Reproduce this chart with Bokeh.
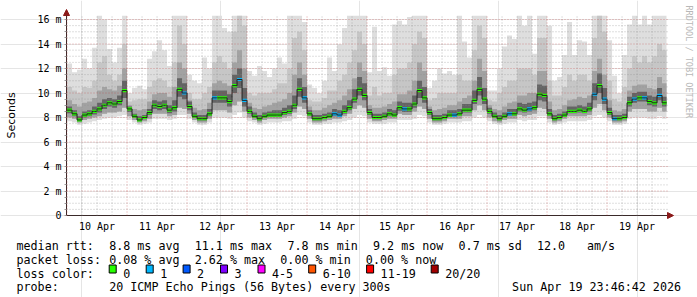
import math
from datetime import datetime, timedelta
from bokeh.plotting import figure
from bokeh.models import (Range1d, FixedTicker, DatetimeTickFormatter, Arrow, NormalHead,
                          Label, LinearAxis, DatetimeAxis)
from bokeh.core.properties import value
from bokeh.embed import file_html
from bokeh.resources import INLINE

# ---------------- data (2-hour bins from 10 Apr 00:00) ----------------
median_ms = [
    8.6, 8.3, 7.8, 8.2, 8.3, 8.5, 8.7, 9.0, 9.2, 9.1, 9.3, 10.2,
    8.7, 8.1, 7.8, 8.0, 8.4, 9.0, 8.9, 9.0, 8.6, 8.8, 10.3, 10.0,
    8.9, 8.1, 7.9, 7.9, 8.3, 9.6, 9.6, 9.6, 9.3, 10.6, 11.1, 9.4,
    8.5, 8.1, 7.9, 8.1, 8.2, 8.2, 8.2, 8.4, 8.5, 9.0, 10.3, 9.6,
    8.3, 7.9, 7.9, 8.0, 8.1, 8.3, 8.2, 8.5, 8.8, 9.5, 10.3, 9.8,
    8.4, 8.0, 8.0, 8.1, 8.3, 8.2, 8.8, 8.7, 8.7, 9.1, 10.2, 9.6,
    8.4, 7.9, 7.9, 8.0, 8.2, 8.2, 8.3, 8.6, 8.6, 9.4, 10.3, 9.5,
    8.5, 8.1, 7.9, 8.1, 8.3, 8.3, 8.7, 8.6, 8.7, 8.8, 9.9, 9.8,
    8.3, 7.9, 8.0, 8.2, 8.5, 8.5, 8.6, 8.5, 8.7, 9.9, 10.6, 9.5,
    8.4, 7.9, 7.9, 8.0, 9.2, 9.5, 9.6, 9.6, 9.3, 9.2, 9.8, 9.2,
]
loss_count = [
    0, 0, 0, 0, 0, 0, 0, 0, 0, 0, 0, 0,
    0, 0, 0, 0, 0, 0, 0, 0, 0, 0, 0, 1,
    0, 0, 0, 0, 0, 1, 0, 0, 0, 0, 1, 1,
    0, 0, 0, 0, 0, 0, 0, 0, 0, 0, 0, 1,
    0, 0, 0, 0, 0, 1, 1, 0, 0, 0, 0, 0,
    0, 0, 0, 0, 0, 0, 0, 1, 0, 0, 0, 0,
    0, 0, 0, 0, 0, 1, 0, 0, 0, 0, 0, 0,
    0, 0, 0, 0, 1, 0, 0, 0, 1, 0, 0, 0,
    0, 0, 0, 0, 0, 0, 0, 0, 0, 1, 0, 1,
    0, 1, 0, 0, 0, 1, 0, 1, 0, 0, 1, 0,
]
smoke_min = [
    7.7, 7.6, 7.4, 7.5, 7.6, 7.7, 7.8, 7.9, 8.0, 8.0, 8.1, 8.2,
    7.8, 7.6, 7.4, 7.5, 7.6, 7.9, 7.9, 7.9, 7.8, 7.9, 8.2, 8.2,
    7.9, 7.6, 7.4, 7.4, 7.6, 8.0, 8.0, 8.0, 7.9, 8.2, 8.4, 8.0,
    7.7, 7.6, 7.4, 7.5, 7.6, 7.6, 7.6, 7.7, 7.7, 7.9, 8.2, 8.1,
    7.6, 7.4, 7.4, 7.5, 7.5, 7.6, 7.6, 7.7, 7.8, 8.0, 8.2, 8.1,
    7.6, 7.5, 7.5, 7.5, 7.6, 7.6, 7.8, 7.8, 7.8, 7.9, 8.2, 8.1,
    7.6, 7.4, 7.4, 7.5, 7.6, 7.6, 7.6, 7.7, 7.7, 8.0, 8.2, 8.0,
    7.7, 7.5, 7.4, 7.5, 7.6, 7.6, 7.8, 7.7, 7.8, 7.8, 8.1, 8.1,
    7.6, 7.4, 7.5, 7.6, 7.7, 7.7, 7.7, 7.7, 7.8, 8.1, 8.2, 8.0,
    7.7, 7.4, 7.4, 7.5, 7.9, 8.0, 8.0, 8.0, 7.9, 7.9, 8.1, 7.9,
]
smoke_p10 = [
    8.0, 7.9, 7.6, 7.8, 7.9, 8.0, 8.1, 8.3, 8.4, 8.4, 8.5, 8.8,
    8.1, 7.8, 7.6, 7.7, 7.9, 8.3, 8.3, 8.3, 8.1, 8.2, 8.8, 8.7,
    8.3, 7.8, 7.6, 7.6, 7.9, 8.6, 8.6, 8.6, 8.4, 9.0, 9.3, 8.5,
    8.0, 7.8, 7.6, 7.8, 7.9, 7.9, 7.9, 8.0, 8.1, 8.4, 8.9, 8.7,
    7.9, 7.6, 7.6, 7.7, 7.8, 7.9, 7.9, 8.1, 8.3, 8.7, 9.0, 8.8,
    7.9, 7.7, 7.7, 7.8, 7.9, 7.9, 8.3, 8.2, 8.2, 8.5, 8.9, 8.7,
    7.9, 7.6, 7.6, 7.7, 7.9, 7.9, 7.9, 8.1, 8.1, 8.6, 9.0, 8.6,
    8.0, 7.7, 7.6, 7.8, 7.9, 7.9, 8.2, 8.1, 8.2, 8.3, 8.8, 8.7,
    7.9, 7.6, 7.7, 7.9, 8.1, 8.1, 8.1, 8.1, 8.2, 8.8, 9.1, 8.6,
    8.0, 7.6, 7.6, 7.7, 8.5, 8.7, 8.7, 8.7, 8.5, 8.5, 8.8, 8.5,
]
smoke_p25 = [
    8.35, 8.1, 7.7, 8.0, 8.1, 8.25, 8.4, 8.7, 8.9, 8.8, 9.0, 9.6,
    8.45, 7.95, 7.7, 7.85, 8.2, 8.7, 8.6, 8.7, 8.35, 8.5, 9.7, 9.5,
    8.6, 7.95, 7.75, 7.75, 8.1, 9.2, 9.2, 9.2, 8.9, 10.0, 10.4, 8.9,
    8.3, 7.95, 7.75, 7.95, 8.05, 8.05, 8.05, 8.2, 8.3, 8.7, 9.7, 9.2,
    8.15, 7.75, 7.75, 7.85, 7.95, 8.1, 8.05, 8.3, 8.6, 9.2, 9.8, 9.4,
    8.2, 7.85, 7.85, 7.95, 8.1, 8.05, 8.55, 8.45, 8.45, 8.8, 9.6, 9.2,
    8.2, 7.75, 7.75, 7.85, 8.05, 8.05, 8.15, 8.4, 8.4, 9.1, 9.8, 9.1,
    8.3, 7.95, 7.75, 7.95, 8.15, 8.15, 8.5, 8.4, 8.5, 8.6, 9.4, 9.3,
    8.15, 7.75, 7.85, 8.05, 8.35, 8.35, 8.4, 8.35, 8.5, 9.4, 10.0, 9.1,
    8.2, 7.75, 7.75, 7.85, 8.9, 9.2, 9.3, 9.3, 9.0, 8.9, 9.4, 8.9,
]
smoke_p60 = [
    8.9, 8.6, 8.1, 8.5, 8.6, 8.9, 9.2, 9.5, 9.6, 9.5, 9.8, 11.0,
    8.9, 8.3, 8.1, 8.2, 8.7, 9.4, 9.3, 9.4, 9.0, 9.4, 11.2, 10.8,
    9.3, 8.4, 8.2, 8.2, 8.7, 10.2, 10.2, 10.2, 9.9, 11.5, 12.0, 10.4,
    8.9, 8.4, 8.2, 8.4, 8.5, 8.6, 8.6, 8.8, 9.0, 9.8, 11.2, 10.5,
    8.6, 8.2, 8.2, 8.3, 8.4, 8.7, 8.6, 9.0, 9.4, 10.3, 11.3, 10.8,
    8.7, 8.3, 8.3, 8.4, 8.7, 8.6, 9.3, 9.2, 9.2, 9.8, 11.0, 10.5,
    8.7, 8.2, 8.2, 8.3, 8.6, 8.6, 8.7, 9.1, 9.1, 10.2, 11.3, 10.4,
    8.8, 8.4, 8.2, 8.4, 8.7, 8.7, 9.2, 9.1, 9.2, 9.3, 10.7, 10.6,
    8.7, 8.2, 8.3, 8.5, 8.9, 8.9, 9.0, 8.9, 9.2, 10.8, 11.6, 10.4,
    8.8, 8.2, 8.2, 8.3, 9.7, 10.0, 10.1, 10.1, 9.8, 9.7, 10.4, 9.7,
]
smoke_p75 = [
    9.4, 9.1, 8.9, 9.2, 9.3, 9.6, 10.2, 10.5, 10.3, 10.2, 10.6, 12.0,
    9.0, 8.7, 8.6, 8.7, 9.3, 9.9, 10.0, 10.0, 9.7, 10.5, 12.5, 12.0,
    9.4, 8.8, 8.6, 8.7, 9.2, 10.8, 11.0, 10.8, 10.6, 12.5, 13.5, 12.0,
    9.2, 8.8, 8.7, 8.9, 9.0, 9.2, 9.3, 9.5, 10.0, 11.5, 12.5, 11.5,
    8.9, 8.6, 8.6, 8.8, 9.0, 9.2, 9.4, 9.8, 10.3, 11.2, 12.5, 11.8,
    9.0, 8.8, 8.8, 8.9, 9.1, 9.3, 9.9, 9.9, 10.2, 11.0, 12.5, 11.8,
    8.9, 8.6, 8.7, 8.8, 9.0, 9.0, 9.3, 9.6, 9.8, 11.0, 12.8, 11.8,
    9.0, 8.7, 8.6, 8.9, 9.2, 9.3, 9.8, 9.8, 10.0, 10.0, 11.8, 11.8,
    9.3, 8.6, 8.7, 9.0, 9.4, 9.5, 9.7, 9.6, 9.8, 11.8, 12.8, 11.5,
    9.4, 8.6, 8.5, 8.7, 10.2, 10.6, 10.7, 10.7, 10.4, 10.3, 11.3, 10.8,
]
smoke_p90 = [
    10.5, 10.2, 10.0, 10.5, 10.4, 11.0, 12.5, 13.0, 11.5, 11.0, 11.5, 14.0,
    9.3, 9.4, 9.5, 9.5, 10.5, 11.0, 11.2, 11.0, 10.5, 12.5, 15.5, 14.0,
    10.0, 9.5, 9.5, 10.0, 10.5, 12.5, 13.0, 12.5, 12.0, 15.0, 16.3, 15.5,
    10.0, 9.8, 10.0, 10.0, 10.0, 10.3, 10.8, 10.8, 12.0, 14.5, 15.0, 13.5,
    9.4, 9.3, 9.3, 9.6, 10.2, 10.2, 11.0, 11.5, 12.5, 13.5, 15.0, 14.0,
    9.8, 10.5, 9.8, 10.0, 10.0, 11.5, 12.0, 12.0, 12.5, 14.0, 15.0, 14.5,
    9.4, 9.6, 10.0, 10.0, 10.0, 10.0, 11.5, 11.0, 11.0, 13.5, 15.5, 14.5,
    9.4, 9.3, 10.0, 10.5, 11.0, 11.0, 12.0, 12.0, 12.0, 11.5, 14.5, 14.5,
    11.0, 9.8, 9.8, 10.5, 11.5, 11.0, 11.5, 11.5, 11.0, 14.5, 16.3, 15.0,
    11.0, 9.5, 9.3, 10.5, 12.0, 13.0, 12.5, 13.0, 12.5, 13.0, 14.0, 13.5,
]
smoke_max = [
    12.4, 11.7, 11.9, 12.8, 12.0, 13.7, 16.3, 16.0, 13.6, 12.5, 13.7, 16.3,
    10.0, 10.4, 10.6, 10.3, 12.8, 13.4, 14.3, 13.5, 12.2, 16.3, 16.3, 16.3,
    11.5, 11.0, 10.8, 12.9, 12.0, 16.3, 16.3, 15.3, 15.0, 16.3, 16.3, 16.3,
    11.8, 11.4, 12.2, 11.8, 11.3, 12.0, 12.9, 12.4, 16.3, 16.3, 16.3, 15.8,
    10.7, 10.4, 10.0, 11.0, 12.9, 11.8, 14.0, 15.3, 16.3, 16.3, 16.3, 16.3,
    11.7, 15.4, 11.8, 12.1, 11.4, 15.6, 15.9, 15.6, 16.2, 16.3, 16.3, 16.3,
    10.4, 11.0, 12.0, 11.6, 11.8, 11.5, 16.3, 14.2, 12.9, 16.3, 16.3, 16.3,
    10.2, 10.2, 12.0, 13.8, 14.7, 14.4, 16.3, 15.5, 16.3, 13.2, 16.3, 16.3,
    15.5, 11.0, 11.3, 13.1, 15.8, 13.1, 14.3, 14.2, 13.1, 16.3, 16.3, 16.3,
    14.3, 11.4, 10.0, 13.1, 15.6, 16.3, 15.6, 16.3, 15.6, 16.3, 16.3, 16.3,
]

y_ticks = [0, 2, 4, 6, 8, 10, 12, 14, 16]
y_tick_labels = ["0", "2 m", "4 m", "6 m", "8 m", "10 m", "12 m", "14 m", "16 m"]
y_axis_title = "Seconds"
watermark = "RRDTOOL / TOBI OETIKER"

rtt_title = "median rtt:"
rtt_items = ["8.8 ms avg", "11.1 ms max", "7.8 ms min", "9.2 ms now", "0.7 ms sd", "12.0", "am/s"]
loss_title = "packet loss:"
loss_items = ["0.08 % avg", "2.62 % max", "0.00 % min", "0.00 % now"]
color_title = "loss color:"
loss_labels = ["0", "1", "2", "3", "4-5", "6-10", "11-19", "20/20"]
loss_colors = ["#26ff00", "#00b8ff", "#0059ff", "#7e00ff", "#ff00ff", "#ff5500", "#ff0000", "#a10000"]
probe_title = "probe:"
probe_text = "20 ICMP Echo Pings (56 Bytes) every 300s"
stamp_text = "Sun Apr 19 23:46:42 2026"

# ---------------- geometry / time ----------------
EPOCH = datetime(1970, 1, 1)
def ms(dt):
    return (dt - EPOCH).total_seconds() * 1000.0

W, H = 697, 297
GX, GY = 66, 215               # graph origin in canvas pixels
GW, GH = 603, 200              # graph area size
PX_MS = 1440 * 1000.0          # one pixel = 24 minutes
PX_Y = 12.25                   # pixels per millisecond of rtt
t_start = datetime(2026, 4, 9, 23, 46, 42)
t_data_end = t_start + timedelta(days=10)
day0 = datetime(2026, 4, 10)
x0 = ms(t_start)

def X(px):   # canvas pixel column -> time
    return x0 + (px - GX) * PX_MS
def Y(py):   # canvas pixel row -> rtt value
    return (GY - py) / PX_Y

nb = len(median_ms)
starts = [ms(day0 + timedelta(hours=2 * k)) for k in range(nb)]
ends = starts[1:] + [ms(t_data_end)]
xs_step = starts + [ms(t_data_end)]
def ext(a):
    return list(a) + [a[-1]]

ytop = GH / PX_Y
xright = X(GX + GW)

p = figure(width=W, height=H, x_range=Range1d(X(0), X(W)), y_range=Range1d(Y(H), Y(0)),
           min_border=0, toolbar_location=None, output_backend="svg",
           x_axis_location=None, y_axis_location=None,
           background_fill_color="white", border_fill_color="white")
p.outline_line_color = None

# smoke layers (outer to inner)
layers = [(smoke_min, smoke_max, "#dedede"),
          (smoke_p10, smoke_p90, "#c6c6c6"),
          (smoke_p10, smoke_p75, "#a2a2a2"),
          (smoke_p25, smoke_p60, "#646464")]
for lo, hi, col in layers:
    p.varea_step(x=xs_step, y1=ext(lo), y2=ext(hi), step_mode="after", fill_color=col)

# median: loss-coloured band + dark step line
HALF = 0.13
p.quad(left=starts, right=ends,
       bottom=[m - HALF for m in median_ms], top=[m + HALF for m in median_ms],
       fill_color=[loss_colors[c] for c in loss_count], line_color=None)
p.step(x=xs_step, y=ext(median_ms), mode="after", line_color="#202020", line_width=1)

# ---------------- grid ----------------
GRID_MAJ = "#c23030"
GRID_MIN = "#8c8c8c"
midnights = [ms(day0 + timedelta(days=d)) for d in range(10)]
six_h = [ms(day0 + timedelta(hours=h)) for h in range(0, 240, 6) if h % 24 != 0]
minor_y = [k * 0.5 for k in range(1, 33) if k % 4 != 0]
major_y = [t for t in y_ticks if t > 0]

def seg(x0s, y0s, x1s, y1s, col, alpha):
    p.segment(x0=x0s, y0=y0s, x1=x1s, y1=y1s, line_color=col, line_alpha=alpha,
              line_dash="1 2", line_width=1, level="annotation")

seg(six_h, [0] * len(six_h), six_h, [ytop] * len(six_h), GRID_MIN, 0.55)
seg([x0] * len(minor_y), minor_y, [xright] * len(minor_y), minor_y, GRID_MIN, 0.55)
seg(midnights, [0] * len(midnights), midnights, [ytop] * len(midnights), GRID_MAJ, 0.45)
seg([x0] * len(major_y), major_y, [xright] * len(major_y), major_y, GRID_MAJ, 0.45)

# ---------------- axes (fixed at the graph origin) ----------------
AXIS_COL = "#3a2a2a"
ARROW_COL = "#8b1a1a"
noons = [ms(day0 + timedelta(days=d, hours=12)) for d in range(10)]
fmt = "%d %b"
xa = DatetimeAxis(fixed_location=0, bounds=(x0, xright),
                  ticker=FixedTicker(ticks=noons),
                  formatter=DatetimeTickFormatter(microseconds=fmt, milliseconds=fmt, seconds=fmt,
                                                  minsec=fmt, minutes=fmt, hourmin=fmt, hours=fmt,
                                                  days=fmt, months=fmt, years=fmt))
xa.major_tick_out = 0
xa.major_tick_in = 0
xa.minor_tick_out = 0
xa.minor_tick_in = 0
xa.major_label_standoff = 5
xa.major_label_text_font = "DejaVu Sans Mono"
xa.major_label_text_font_size = "10px"
xa.major_label_text_color = "black"
xa.axis_line_color = AXIS_COL
p.add_layout(xa, "below")

ya = LinearAxis(fixed_location=x0, bounds=(0, ytop),
                ticker=FixedTicker(ticks=y_ticks, minor_ticks=minor_y))
ya.major_label_overrides = {t: lab for t, lab in zip(y_ticks, y_tick_labels)}
ya.major_tick_out = 2
ya.major_tick_in = 0
ya.minor_tick_out = 2
ya.minor_tick_in = 0
ya.major_tick_line_color = "#999999"
ya.minor_tick_line_color = "#999999"
ya.major_label_standoff = 3
ya.major_label_text_font = "DejaVu Sans Mono"
ya.major_label_text_font_size = "10px"
ya.major_label_text_color = "black"
ya.axis_line_color = AXIS_COL
ya.axis_label = y_axis_title
ya.axis_label_text_font = "DejaVu Sans"
ya.axis_label_text_font_size = "11px"
ya.axis_label_text_font_style = "normal"
ya.axis_label_text_color = "black"
ya.axis_label_standoff = 16
p.add_layout(ya, "left")

# axis arrows
p.add_layout(Arrow(end=NormalHead(size=6, fill_color=ARROW_COL, line_color=ARROW_COL),
                   x_start=x0, y_start=ytop, x_end=x0, y_end=Y(GY - GH - 6),
                   line_color=AXIS_COL, line_width=1))
p.add_layout(Arrow(end=NormalHead(size=6, fill_color=ARROW_COL, line_color=ARROW_COL),
                   x_start=xright, y_start=0, x_end=X(GX + GW + 4), y_end=0,
                   line_color=AXIS_COL, line_width=1))

# vertical watermark on the right
p.add_layout(Label(x=X(688), y=Y(5), text=watermark,
                   angle=-math.pi / 2, text_align="left", text_baseline="middle",
                   text_font="DejaVu Sans Mono", text_font_size="8.5px", text_color="#b8b8b8"))

# ---------------- legend block (monospace character grid) ----------------
FONT = value("DejaVu Sans Mono")
FSIZE = value("11.7px")
LX0, CW = 16.0, 7.13
def col(c):
    return LX0 + c * CW
rows = [245.1, 259.1, 273.0, 286.9]
tx, ty, tt = [], [], []
def put(px, py, s):
    tx.append(X(px)); ty.append(Y(py)); tt.append(s)

put(col(0), rows[0], rtt_title)
for c, s in zip([13, 25, 38, 50, 62, 73, 80], rtt_items):
    put(col(c), rows[0], s)
put(col(0), rows[1], loss_title)
for c, s in zip([13, 25, 37, 49], loss_items):
    put(col(c), rows[1], s)
put(col(0), rows[2], color_title)
box_x = [108.7, 145.7, 182.6, 220.0, 257.5, 308.2, 366.1, 430.7]
for px, s in zip(box_x, loss_labels):
    put(px + 14.0, rows[2], s)
put(col(0), rows[3], probe_title)
put(col(13), rows[3], probe_text)

p.text(x=tx, y=ty, text=tt, text_font=FONT, text_font_size=FSIZE,
       text_baseline="alphabetic", text_align="left", text_color="black")
p.text(x=[X(680.5)], y=[Y(rows[3])], text=[stamp_text], text_font=FONT, text_font_size=FSIZE,
       text_baseline="alphabetic", text_align="right", text_color="black")
p.quad(left=[X(b) for b in box_x], right=[X(b + 7) for b in box_x],
       top=[Y(rows[2] - 8.5)] * len(box_x), bottom=[Y(rows[2] - 0.5)] * len(box_x),
       fill_color=loss_colors, line_color="black", line_width=1)

open("out.html", "w").write(file_html(p, INLINE))
